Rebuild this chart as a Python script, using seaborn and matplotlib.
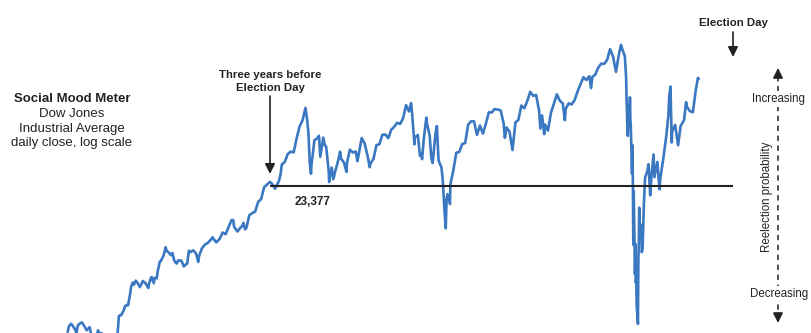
import numpy as np
import pandas as pd
import matplotlib
matplotlib.use("Agg")
import matplotlib.pyplot as plt
import matplotlib.dates as mdates
from matplotlib.lines import Line2D
import seaborn as sns

# ---------------- data (DJIA daily close) ----------------
dates_2016 = ["2016-07-12","2016-07-15","2016-07-20","2016-07-22","2016-07-27","2016-07-29",
              "2016-08-02","2016-08-05","2016-08-11","2016-08-15","2016-08-19","2016-08-26",
              "2016-09-02","2016-09-09","2016-09-13","2016-09-16","2016-09-22","2016-09-27","2016-09-30",
              "2016-10-07","2016-10-13","2016-10-18","2016-10-21","2016-10-25","2016-10-28",
              "2016-11-01","2016-11-04","2016-11-07","2016-11-09","2016-11-10","2016-11-11","2016-11-16",
              "2016-11-22","2016-11-25","2016-12-01","2016-12-02","2016-12-07","2016-12-09","2016-12-13",
              "2016-12-16","2016-12-20","2016-12-23","2016-12-30"]
close_2016 = [18347,18516,18595,18571,18473,18432,
              18313,18543,18613,18636,18553,18395,
              18492,18085,18067,18124,18392,18228,18308,
              18240,18099,18162,18145,18169,18161,
              18037,17888,18260,18590,18808,18847,18868,
              19024,19152,19192,19171,19550,19757,19911,
              19843,19975,19934,19763]

dates_2017 = ["2017-01-06","2017-01-12","2017-01-13","2017-01-19","2017-01-20","2017-01-25","2017-01-27",
              "2017-02-01","2017-02-03","2017-02-08","2017-02-10","2017-02-15","2017-02-17","2017-02-24",
              "2017-03-01","2017-03-03","2017-03-10","2017-03-14","2017-03-17","2017-03-21","2017-03-24",
              "2017-03-27","2017-03-31","2017-04-05","2017-04-07","2017-04-13","2017-04-18","2017-04-21",
              "2017-04-25","2017-04-28","2017-05-05","2017-05-12","2017-05-17","2017-05-19","2017-05-26",
              "2017-06-02","2017-06-09","2017-06-16","2017-06-20","2017-06-23","2017-06-29","2017-07-07",
              "2017-07-14","2017-07-21","2017-07-28","2017-08-04","2017-08-08","2017-08-10","2017-08-18",
              "2017-08-25","2017-08-29","2017-09-01","2017-09-05","2017-09-08","2017-09-15","2017-09-22",
              "2017-09-29","2017-10-06","2017-10-13","2017-10-20","2017-10-27","2017-11-03","2017-11-10",
              "2017-11-15","2017-11-17","2017-11-24","2017-11-28","2017-12-01","2017-12-08","2017-12-15",
              "2017-12-22","2017-12-29"]
close_2017 = [19964,19891,19886,19732,19827,20068,20094,
              19891,20071,20054,20269,20611,20624,20822,
              21116,21005,20903,20837,20915,20669,20597,
              20551,20663,20648,20656,20453,20524,20548,
              20997,20941,21007,20897,20607,20805,21080,
              21206,21272,21384,21468,21395,21287,21414,
              21638,21580,21830,22093,22085,21844,21675,
              21814,21865,21988,21753,21798,22268,22350,
              22405,22773,22871,23329,23434,23539,23422,
              23272,23358,23558,23837,24231,24329,24652,
              24754,24719]

dates_2018 = ["2018-01-05","2018-01-12","2018-01-19","2018-01-26","2018-01-30","2018-02-02","2018-02-05",
              "2018-02-08","2018-02-09","2018-02-14","2018-02-16","2018-02-23","2018-02-27","2018-03-02",
              "2018-03-09","2018-03-13","2018-03-16","2018-03-22","2018-03-23","2018-03-29","2018-04-02",
              "2018-04-06","2018-04-13","2018-04-18","2018-04-20","2018-04-27","2018-05-03","2018-05-04",
              "2018-05-11","2018-05-18","2018-05-25","2018-05-29","2018-06-01","2018-06-08","2018-06-15",
              "2018-06-22","2018-06-27","2018-06-29","2018-07-06","2018-07-13","2018-07-20","2018-07-27",
              "2018-08-03","2018-08-10","2018-08-17","2018-08-24","2018-08-31","2018-09-07","2018-09-14",
              "2018-09-21","2018-09-28","2018-10-03","2018-10-05","2018-10-11","2018-10-12","2018-10-19",
              "2018-10-24","2018-10-26","2018-10-29","2018-11-02","2018-11-08","2018-11-09","2018-11-16",
              "2018-11-20","2018-11-23","2018-11-30","2018-12-03","2018-12-07","2018-12-14","2018-12-17",
              "2018-12-21","2018-12-24","2018-12-26","2018-12-28"]
close_2018 = [25296,25803,26072,26617,26077,25521,24346,
              23860,24191,24893,25219,25310,25410,24538,
              25336,25008,24947,23958,23533,24103,23644,
              23933,24360,24748,24463,24311,23930,24263,
              24831,24715,24753,24361,24635,25317,25090,
              24580,24117,24271,24456,25019,25058,25451,
              25463,25313,25669,25790,25965,25917,26154,
              26743,26458,26828,26447,25053,25340,25444,
              24583,24688,24443,25271,26191,25989,25413,
              24466,24286,25538,25826,24389,24101,23592,
              22445,21792,22878,23062]

dates_2019 = ["2019-01-03","2019-01-04","2019-01-11","2019-01-18","2019-01-25","2019-02-01","2019-02-08",
              "2019-02-15","2019-02-22","2019-03-01","2019-03-08","2019-03-15","2019-03-22","2019-03-29",
              "2019-04-05","2019-04-12","2019-04-18","2019-04-26","2019-05-03","2019-05-10","2019-05-13",
              "2019-05-17","2019-05-24","2019-05-31","2019-06-07","2019-06-14","2019-06-21","2019-06-28",
              "2019-07-05","2019-07-12","2019-07-19","2019-07-26","2019-08-02","2019-08-05","2019-08-09",
              "2019-08-14","2019-08-16","2019-08-23","2019-08-30","2019-09-06","2019-09-13","2019-09-20",
              "2019-09-27","2019-10-02","2019-10-04","2019-10-11","2019-10-18","2019-10-25","2019-11-01",
              "2019-11-08","2019-11-15","2019-11-22","2019-11-29","2019-12-03","2019-12-06","2019-12-13",
              "2019-12-20","2019-12-27"]
close_2019 = [22686,23433,23996,24706,24737,25064,25106,
              25883,26031,26026,25450,25849,25502,25929,
              26425,26412,26559,26543,26505,25942,25325,
              25764,25586,24815,25984,26090,26719,26600,
              26922,27332,27154,27192,26485,25718,26287,
              25479,25886,25629,26403,26797,27220,26935,
              26820,26079,26574,26817,26770,26958,27347,
              27681,28005,27876,28051,27503,28015,28135,
              28455,28645]

dates_2020 = ["2020-01-03","2020-01-10","2020-01-17","2020-01-24","2020-01-31","2020-02-07","2020-02-12",
              "2020-02-14","2020-02-21","2020-02-24","2020-02-25","2020-02-27","2020-02-28","2020-03-02",
              "2020-03-03","2020-03-04","2020-03-05","2020-03-06","2020-03-09","2020-03-10","2020-03-11",
              "2020-03-12","2020-03-13","2020-03-16","2020-03-17","2020-03-18","2020-03-19","2020-03-20",
              "2020-03-23","2020-03-24","2020-03-25","2020-03-26","2020-03-27","2020-03-31","2020-04-01",
              "2020-04-03","2020-04-06","2020-04-09","2020-04-14","2020-04-17","2020-04-21","2020-04-24",
              "2020-04-29","2020-05-01","2020-05-08","2020-05-13","2020-05-15","2020-05-22","2020-05-29",
              "2020-06-03","2020-06-05","2020-06-08","2020-06-11","2020-06-12","2020-06-19","2020-06-26",
              "2020-07-02","2020-07-10","2020-07-15","2020-07-17","2020-07-24","2020-07-31","2020-08-07",
              "2020-08-12","2020-08-14"]
close_2020 = [28635,28824,29348,28990,28256,29102,29551,
              29398,28992,27961,27081,25767,25409,26703,
              25917,27091,26121,25864,23851,25018,23553,
              21200,23185,20189,21237,19899,20087,19174,
              18592,20705,21201,22552,21637,21917,20944,
              21053,22680,23719,23949,24242,23019,23775,
              24634,23724,24331,23248,23685,24465,25383,
              26270,27111,27572,25128,25606,25871,25016,
              25827,26075,26870,26672,26470,26428,27433,
              27976,27931]

THREE_YEARS_BEFORE = "2017-11-03"
ELECTION_DAY = "2020-11-03"
BASELINE = 23377

# ---------------- build frame ----------------
dates = dates_2016 + dates_2017 + dates_2018 + dates_2019 + dates_2020
closes = close_2016 + close_2017 + close_2018 + close_2019 + close_2020
df = pd.DataFrame({"date": pd.to_datetime(dates), "close": closes})

sns.set_style("white")
plt.rcParams["font.family"] = ["Liberation Sans", "DejaVu Sans"]

W, H = 812, 333
fig = plt.figure(figsize=(W / 100, H / 100), dpi=100)
ax = fig.add_axes([0, 0, 1, 1])

BLUE = "#3a78c2"
INK = "#222222"

sns.lineplot(data=df, x="date", y="close", ax=ax, color=BLUE, linewidth=1.9,
             estimator=None)

# baseline from three years before to election day
t0 = pd.Timestamp(THREE_YEARS_BEFORE)
t1 = pd.Timestamp(ELECTION_DAY)
ax.plot([t0, t1], [BASELINE, BASELINE], color=INK, linewidth=1.5, solid_capstyle="butt")

# scales
ax.set_yscale("log")
ppd = 463 / (t1 - t0).days          # pixels per day
x0 = mdates.date2num(t0) - 270 / ppd
ax.set_xlim(x0, x0 + W / ppd)
base_y, ppl = 186.0, 602.0          # pixel row of baseline, pixels per ln unit
ax.set_ylim(BASELINE * np.exp(-(H - base_y) / ppl), BASELINE * np.exp(base_y / ppl))
ax.axis("off")


def px(x, y):
    return (x / W, 1 - y / H)


# left title block
fig.text(*px(72, 99), "Social Mood Meter", ha="center", va="center",
         fontsize=9.5, fontweight="bold", color=INK)
for yy, s in [(114, "Dow Jones"), (129, "Industrial Average"), (143, "daily close, log scale")]:
    fig.text(*px(72, yy), s, ha="center", va="center", fontsize=9.5, color=INK)

# three years before annotation
fig.text(*px(270, 75), "Three years before", ha="center", va="center",
         fontsize=8.2, fontweight="bold", color=INK)
fig.text(*px(270, 88), "Election Day", ha="center", va="center",
         fontsize=8.2, fontweight="bold", color=INK)
ax.annotate("", xy=px(270, 174), xytext=px(270, 96), xycoords="figure fraction",
            textcoords="figure fraction",
            arrowprops=dict(arrowstyle="-|>,head_length=0.6,head_width=0.3",
                            color=INK, lw=1.2, shrinkA=0, shrinkB=0))

# baseline label
fig.text(*px(313, 202), f"{BASELINE:,}", ha="center", va="center",
         fontsize=8.5, fontweight="bold", color=INK)

# election day annotation
fig.text(*px(733, 23), "Election Day", ha="center", va="center",
         fontsize=8.2, fontweight="bold", color=INK)
ax.annotate("", xy=px(733, 57), xytext=px(733, 32), xycoords="figure fraction",
            textcoords="figure fraction",
            arrowprops=dict(arrowstyle="-|>,head_length=0.6,head_width=0.3",
                            color=INK, lw=1.2, shrinkA=0, shrinkB=0))

# reelection probability scale
xd = 778
fig.add_artist(Line2D([xd / W, xd / W], [1 - 76 / H, 1 - 315 / H], color=INK, lw=1.1,
                      linestyle=(0, (3.5, 3)), transform=fig.transFigure))
for tip, tail in [(68, 78), (323, 313)]:
    ax.annotate("", xy=px(xd, tip), xytext=px(xd, tail), xycoords="figure fraction",
                textcoords="figure fraction",
                arrowprops=dict(arrowstyle="-|>,head_length=0.6,head_width=0.3",
                                color=INK, lw=1.1, shrinkA=0, shrinkB=0))
for yy, s in [(99, "Increasing"), (294, "Decreasing")]:
    fig.text(*px(xd + 1, yy), s, ha="center", va="center", fontsize=8.3, color=INK,
             bbox=dict(facecolor="white", edgecolor="none", pad=1.5))
fig.text(*px(767, 197), "Reelection probability", ha="center", va="center",
         fontsize=8.3, color=INK, rotation=90)

fig.savefig("out.png", dpi=100)
